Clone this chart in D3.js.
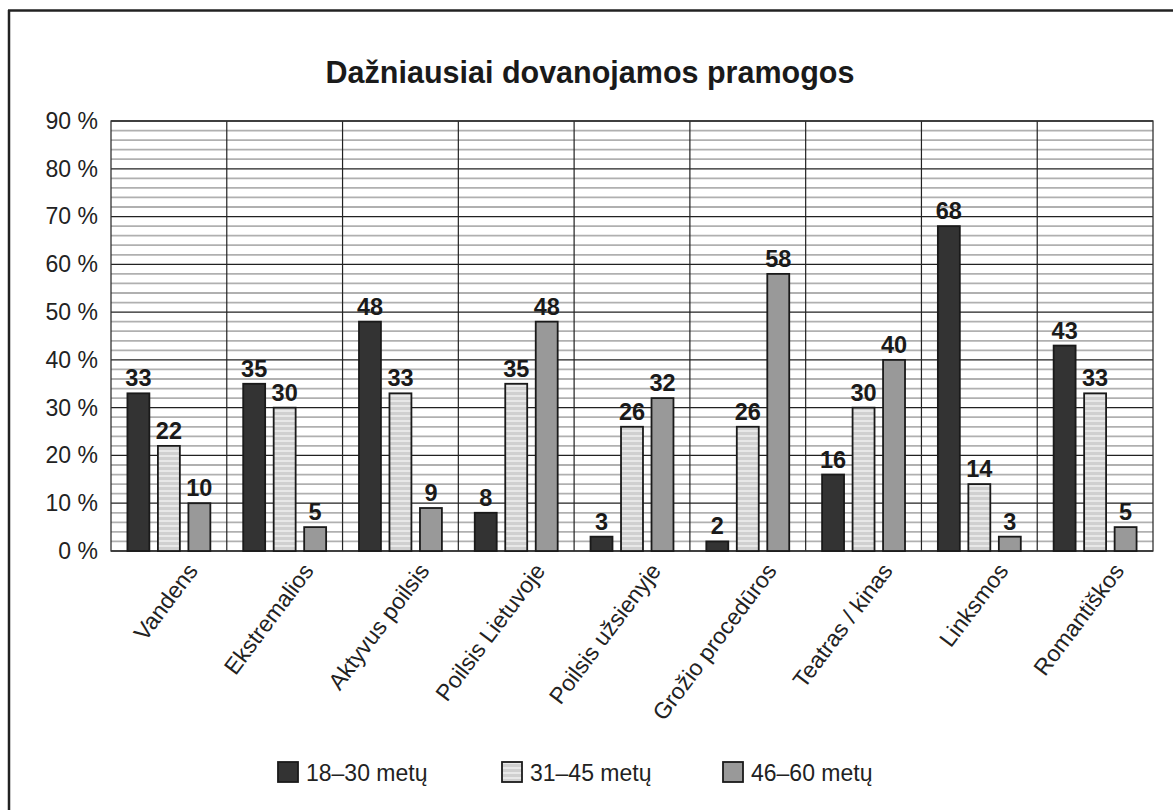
<!DOCTYPE html>
<html><head><meta charset="utf-8">
<script src="https://cdn.jsdelivr.net/npm/d3@7"></script>
<style>
html,body{margin:0;padding:0;background:#fff;}
svg{display:block;font-family:"Liberation Sans",Arial,Helvetica,sans-serif;}
</style></head>
<body>
<svg id="chart" width="1173" height="810"></svg>
<script>
const title = "Dažniausiai dovanojamos pramogos";
const categories = ["Vandens","Ekstremalios","Aktyvus poilsis","Poilsis Lietuvoje","Poilsis užsienyje","Grožio procedūros","Teatras / kinas","Linksmos","Romantiškos"];
const seriesNames = ["18–30 metų","31–45 metų","46–60 metų"];
const s1830 = [33,35,48,8,3,2,16,68,43];
const s3145 = [22,30,33,35,26,26,30,14,33];
const s4660 = [10,5,9,48,32,58,40,3,5];
const yTicks = [0,10,20,30,40,50,60,70,80,90];
const seriesValues = [s1830, s3145, s4660];

const svg = d3.select("#chart");
const W = 1173, H = 810;
const m = {left:111, right:1153, top:121, bottom:551};

const defs = svg.append("defs");
const pat = defs.append("pattern").attr("id","stripes").attr("patternUnits","userSpaceOnUse")
  .attr("width",8).attr("height",5);
pat.append("rect").attr("width",8).attr("height",5).attr("fill","#d0d0d0");
pat.append("rect").attr("y",0).attr("width",8).attr("height",2).attr("fill","#e8e8e8");
const fills = ["#333333","url(#stripes)","#999999"];

// outer frame (top & left)
svg.append("line").attr("x1",8).attr("x2",W).attr("y1",10.5).attr("y2",10.5).attr("stroke","#222").attr("stroke-width",2.5);
svg.append("line").attr("x1",9).attr("x2",9).attr("y1",10).attr("y2",H).attr("stroke","#222").attr("stroke-width",2.5);

svg.append("text").attr("x",590).attr("y",83).attr("text-anchor","middle")
  .attr("font-size",30.5).attr("font-weight","bold").attr("fill","#1a1a1a").text(title);

const x0 = d3.scaleBand().domain(categories).range([m.left,m.right]).paddingInner(0).paddingOuter(0);
const x1 = d3.scaleBand().domain(seriesNames).range([-x0.bandwidth()*0.395, x0.bandwidth()*0.395]).paddingInner(0.28).paddingOuter(0.14);
const y = d3.scaleLinear().domain([0,90]).range([m.bottom,m.top]);

const minor = d3.range(2,90,2).filter(v=>v%10!==0);
svg.append("g").selectAll("line").data(minor).join("line")
  .attr("x1",m.left).attr("x2",m.right).attr("y1",d=>y(d)).attr("y2",d=>y(d))
  .attr("stroke","#b0b0b0").attr("stroke-width",1.8);
svg.append("g").selectAll("line").data(yTicks).join("line")
  .attr("x1",m.left).attr("x2",m.right).attr("y1",d=>y(d)).attr("y2",d=>y(d))
  .attr("stroke","#222").attr("stroke-width",1.3);
svg.append("g").selectAll("line").data(categories.slice(1)).join("line")
  .attr("x1",d=>x0(d)).attr("x2",d=>x0(d)).attr("y1",m.top).attr("y2",m.bottom)
  .attr("stroke","#222").attr("stroke-width",1.2);
svg.append("rect").attr("x",m.left).attr("y",m.top).attr("width",m.right-m.left).attr("height",m.bottom-m.top)
  .attr("fill","none").attr("stroke","#333").attr("stroke-width",1.3);

const yAxis = d3.axisLeft(y).tickValues(yTicks).tickSize(0).tickPadding(13).tickFormat(d=>d+" %");
const ga = svg.append("g").attr("transform",`translate(${m.left},0)`).call(yAxis);
ga.select(".domain").remove();
ga.selectAll("text").attr("font-size",23).attr("fill","#222").attr("font-family","Liberation Sans, Arial, sans-serif");

const groups = svg.append("g").selectAll("g").data(categories).join("g")
  .attr("transform",d=>`translate(${x0(d)+x0.bandwidth()/2},0)`);
seriesNames.forEach((s,si)=>{
  groups.append("rect")
    .attr("x",x1(s)).attr("width",x1.bandwidth())
    .attr("y",(d,i)=>y(seriesValues[si][i]))
    .attr("height",(d,i)=>y(0)-y(seriesValues[si][i]))
    .attr("fill",fills[si]).attr("stroke","#1a1a1a").attr("stroke-width",1.8);
  groups.append("text")
    .attr("x",x1(s)+x1.bandwidth()/2)
    .attr("y",(d,i)=>y(seriesValues[si][i])-7)
    .attr("text-anchor","middle").attr("font-size",23.5).attr("font-weight","bold").attr("fill","#1a1a1a")
    .text((d,i)=>seriesValues[si][i]);
});

const xAxis = d3.axisBottom(x0).tickSize(0).tickPadding(0);
const gx = svg.append("g").attr("transform",`translate(0,${m.bottom})`).call(xAxis);
gx.select(".domain").remove();
gx.selectAll("text")
  .attr("font-size",23).attr("fill","#222").attr("font-family","Liberation Sans, Arial, sans-serif")
  .attr("text-anchor","end").attr("dy",null).attr("y",0)
  .attr("transform","translate(30,20) rotate(-53)");

const legX = [278,502,723];
const lg = svg.append("g").selectAll("g").data(seriesNames).join("g")
  .attr("transform",(d,i)=>`translate(${legX[i]},762)`);
lg.append("rect").attr("width",20).attr("height",20).attr("fill",(d,i)=>fills[i])
  .attr("stroke","#1a1a1a").attr("stroke-width",1.8);
lg.append("text").attr("x",28).attr("y",19).attr("font-size",23).attr("fill","#222").text(d=>d);
</script>
</body></html>
